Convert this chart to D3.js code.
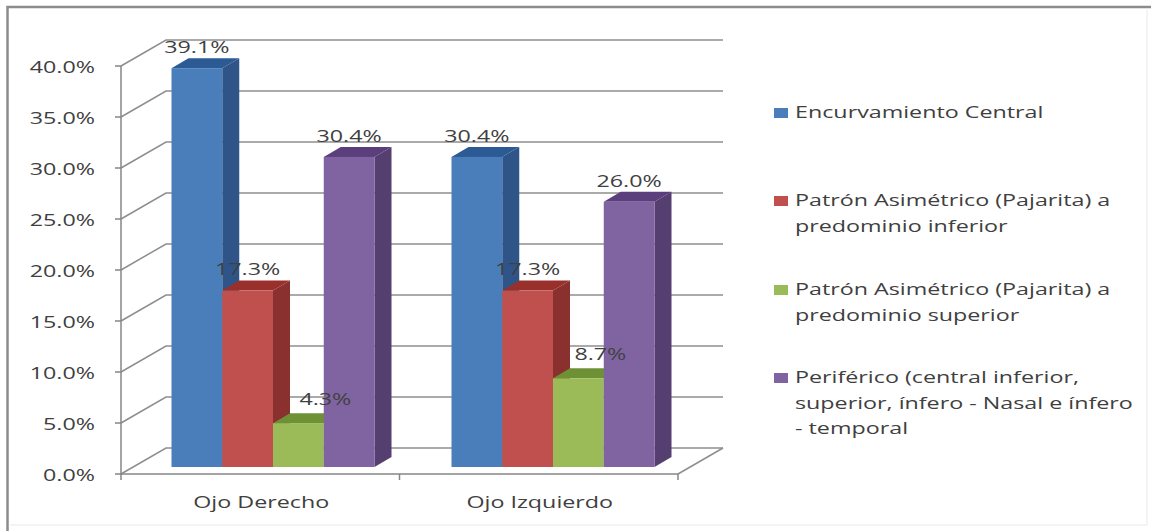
<!DOCTYPE html>
<html>
<head>
<meta charset="utf-8">
<script src="https://cdn.jsdelivr.net/npm/d3@7"></script>
<style>
  html, body { margin: 0; padding: 0; background: #fff; }
  svg { display: block; }
  text { font-family: "Open Sans", sans-serif; fill: #404040; font-size: 17px; }
</style>
</head>
<body>
<div id="chart"></div>
<script>
const categories = ['Ojo Derecho', 'Ojo Izquierdo'];
const seriesNames = [
  'Encurvamiento Central',
  'Patrón Asimétrico (Pajarita) a predominio inferior',
  'Patrón Asimétrico (Pajarita) a predominio superior',
  'Periférico (central inferior, superior, ínfero - Nasal e ínfero - temporal'
];
const legendLines = [
  ['Encurvamiento Central'],
  ['Patrón Asimétrico (Pajarita) a', 'predominio inferior'],
  ['Patrón Asimétrico (Pajarita) a', 'predominio superior'],
  ['Periférico (central inferior,', 'superior, ínfero - Nasal e ínfero', '- temporal']
];
const encurvamiento = [39.1, 30.4];
const asimetricoInferior = [17.3, 17.3];
const asimetricoSuperior = [4.3, 8.7];
const periferico = [30.4, 26.0];
const seriesValues = [encurvamiento, asimetricoInferior, asimetricoSuperior, periferico];
const yTicks = [0, 5, 10, 15, 20, 25, 30, 35, 40];

const frontColors = ['#4a7ebb', '#c0504d', '#9bbb59', '#8064a2'];
const sideColors = ['#2f5488', '#8a302e', '#6f8a3a', '#553f70'];
const topColors = ['#2c5a94', '#9a302c', '#6f9136', '#5b3f7c'];

const width = 1151;
const height = 531;
const wall = { dx: 45, dy: -26 };
const bar = { dx: 17, dy: -10, lift: 7 };
const textStretch = 1.37;
const greenSeries = 2;
const greenLabelShift = [27, 22];

const svg = d3.select('#chart')
  .append('svg')
  .attr('width', width)
  .attr('height', height);

// frame: the top and left edges are strong, the other two barely show
const frame = svg.append('g').attr('fill', 'none');
frame.append('path')
  .attr('stroke', '#8c8c8c')
  .attr('stroke-width', 2.5)
  .attr('d', d3.line()([[7.5, height], [7.5, 7], [width, 7]]));
frame.append('path')
  .attr('stroke', '#f1f1f1')
  .attr('stroke-width', 1.5)
  .attr('d', d3.line()([[10, 525], [1147, 525], [1147, 10]]));

const x = d3.scaleBand()
  .domain(categories)
  .range([121, 678]);
const groupX = d3.scaleBand()
  .domain(categories)
  .range([133, 693]);
const barX = d3.scaleBand()
  .domain(d3.range(seriesNames.length))
  .range([0, 203]);
const y = d3.scaleLinear()
  .domain([0, 40])
  .range([474, 66]);

// stretches a text horizontally around its anchor point
function place(selection, fx, fy) {
  selection
    .attr('dy', '0.35em')
    .attr('transform', (d, i) => `translate(${fx(d, i)}, ${fy(d, i)}) scale(${textStretch}, 1)`);
}

// gridlines: one segment up the side wall, one along the back wall
const grid = svg.append('g')
  .attr('fill', 'none')
  .attr('stroke', '#8e8e8e')
  .attr('stroke-width', 1.5);

grid.selectAll('path')
  .data(yTicks)
  .join('path')
  .attr('d', (d) => d3.line()([
    [x.range()[0], y(d)],
    [x.range()[0] + wall.dx, y(d) + wall.dy],
    [x.range()[1] + wall.dx, y(d) + wall.dy],
  ]));

// floor edge on the right hand side
grid.append('path')
  .attr('d', d3.line()([
    [x.range()[1], y(0)],
    [x.range()[1] + wall.dx, y(0) + wall.dy],
  ]));

// front axes with outside ticks
const axes = svg.append('g')
  .attr('fill', 'none')
  .attr('stroke', '#868686')
  .attr('stroke-width', 1.5);

axes.append('path')
  .attr('d', d3.line()([[x.range()[0], y(40)], [x.range()[0], y(0)], [x.range()[1], y(0)]]));

axes.selectAll('.tick-y')
  .data(yTicks)
  .join('line')
  .attr('class', 'tick-y')
  .attr('x1', x.range()[0] - 6)
  .attr('x2', x.range()[0])
  .attr('y1', (d) => y(d))
  .attr('y2', (d) => y(d));

axes.selectAll('.tick-x')
  .data([x.range()[0], x.range()[0] + x.step(), x.range()[1]])
  .join('line')
  .attr('class', 'tick-x')
  .attr('x1', (d) => d)
  .attr('x2', (d) => d)
  .attr('y1', y(0))
  .attr('y2', y(0) + 6);

svg.append('g')
  .selectAll('text')
  .data(yTicks)
  .join('text')
  .attr('text-anchor', 'end')
  .text((d) => `${d.toFixed(1)}%`)
  .call(place, () => 95, (d) => y(d) + 1);

svg.append('g')
  .selectAll('text')
  .data(categories)
  .join('text')
  .attr('text-anchor', 'middle')
  .text((d) => d)
  .call(place, (d) => x(d) + x.bandwidth() / 2 + 1, () => 502);

// flat list of bars, drawn in series order so each one overlaps the previous depth face
const bars = categories.flatMap((cat, c) => seriesValues.map((values, s) => {
  const left = groupX(cat) + (groupX.bandwidth() - barX.range()[1]) / 2 + barX(s);
  return {
    value: values[c],
    category: c,
    series: s,
    left,
    right: left + barX.bandwidth(),
    base: y(0) - bar.lift,
    top: y(values[c]) - bar.lift,
  };
}));

const barGroups = svg.append('g')
  .selectAll('g')
  .data(bars)
  .join('g');

barGroups.append('path')
  .attr('fill', (d) => sideColors[d.series])
  .attr('d', (d) => d3.line()([
    [d.right, d.top],
    [d.right + bar.dx, d.top + bar.dy],
    [d.right + bar.dx, d.base + bar.dy],
    [d.right, d.base],
  ]) + 'Z');

barGroups.append('path')
  .attr('fill', (d) => topColors[d.series])
  .attr('d', (d) => d3.line()([
    [d.left, d.top],
    [d.left + bar.dx, d.top + bar.dy],
    [d.right + bar.dx, d.top + bar.dy],
    [d.right, d.top],
  ]) + 'Z');

barGroups.append('rect')
  .attr('fill', (d) => frontColors[d.series])
  .attr('x', (d) => d.left)
  .attr('y', (d) => d.top)
  .attr('width', (d) => d.right - d.left)
  .attr('height', (d) => d.base - d.top);

// value labels sit above the bar top; the short green bars push theirs to the right
svg.append('g')
  .selectAll('text')
  .data(bars)
  .join('text')
  .attr('text-anchor', 'middle')
  .text((d) => `${d.value.toFixed(1)}%`)
  .call(
    place,
    (d) => (d.left + d.right) / 2 + (d.series === greenSeries ? greenLabelShift[d.category] : 0),
    (d) => d.top + bar.dy - (d.series === greenSeries ? 14 : 11)
  );

// legend
const legendTop = [112, 200, 289, 377];
const legend = svg.append('g')
  .selectAll('g')
  .data(seriesNames)
  .join('g')
  .attr('transform', (d, i) => `translate(774, ${legendTop[i]})`);

legend.append('rect')
  .attr('y', -4)
  .attr('width', 14)
  .attr('height', 10)
  .attr('fill', (d, i) => frontColors[i]);

legend.each(function (d, i) {
  d3.select(this)
    .selectAll('text')
    .data(legendLines[i])
    .join('text')
    .text((line) => line)
    .call(place, () => 21, (line, l) => l * 25.7);
});
</script>
</body>
</html>
